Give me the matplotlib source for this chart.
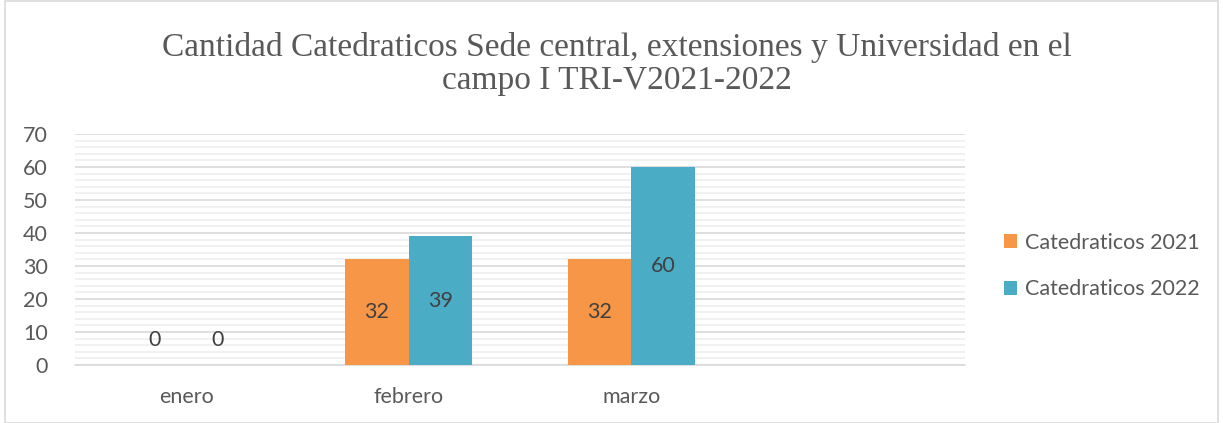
import matplotlib
matplotlib.use("Agg")
import matplotlib.pyplot as plt
import numpy as np
from matplotlib.patches import Rectangle

categories = ["enero", "febrero", "marzo", ""]
series_names = ["Catedraticos 2021", "Catedraticos 2022"]
values_2021 = [0, 32, 32, None]
values_2022 = [0, 39, 60, None]
y_ticks = [0, 10, 20, 30, 40, 50, 60, 70]

colors = ["#F79646", "#4BACC6"]
text_color = "#595959"
plt.rcParams['font.family'] = ['Lato', 'DejaVu Sans']

W, H = 1223, 423
fig = plt.figure(figsize=(W / 100, H / 100), dpi=100)
fig.patches.append(Rectangle((5 / W, 0), 1 - 10 / W, 1 - 1 / H, transform=fig.transFigure,
                             fill=False, edgecolor="#d9d9d9", linewidth=1.2))

ax = fig.add_axes([75 / W, 1 - 365 / H, 890 / W, (365 - 134) / H])
x = np.arange(len(categories))
bw = 0.285
for i, (vals, name, c) in enumerate(zip([values_2021, values_2022], series_names, colors)):
    xs = [xi for xi, v in zip(x, vals) if v is not None]
    vs = [v for v in vals if v is not None]
    off = (i - 0.5) * bw
    ax.bar(np.array(xs) + off, vs, width=bw, color=c, label=name, zorder=3)
    for xi, v in zip(xs, vs):
        ypos = v / 2 if v > 0 else 7.5
        ax.text(xi + off, ypos, f"{v}", ha="center", va="center", fontsize=15.5,
                color="#404040", zorder=4)

ax.set_xlim(-0.5, len(categories) - 0.5)
ax.set_ylim(0, 70)
ax.set_yticks(y_ticks)
ax.set_yticks(np.arange(0, 71, 2), minor=True)
ax.set_xticks(x)
ax.set_xticklabels(categories)
ax.grid(axis="y", which="major", color="#d9d9d9", linewidth=1.2, zorder=0)
ax.grid(axis="y", which="minor", color="#efefef", linewidth=1.2, zorder=0)
ax.tick_params(axis="both", which="both", length=0, colors=text_color, labelsize=15.5)
ax.tick_params(axis="y", pad=19.5)
ax.tick_params(axis="x", pad=16)
for s in ["top", "right", "left"]:
    ax.spines[s].set_visible(False)
ax.spines["bottom"].set_color("#d9d9d9")
ax.spines["bottom"].set_linewidth(1.2)

leg = fig.legend(loc="center left", bbox_to_anchor=(998 / W, 1 - 266 / H), frameon=False,
                 fontsize=15.5, labelcolor=text_color, handlelength=0.6, handleheight=0.6,
                 handletextpad=0.35, labelspacing=1.25, borderaxespad=0, borderpad=0.3)

fig.text(617 / W, 1 - 64 / H,
         "Cantidad Catedraticos Sede central, extensiones y Universidad en el\ncampo I TRI-V2021-2022",
         ha="center", va="center", fontsize=24, color=text_color,
         family=["Liberation Serif", "DejaVu Serif"], linespacing=1.12)

fig.savefig("out.png", dpi=100)
